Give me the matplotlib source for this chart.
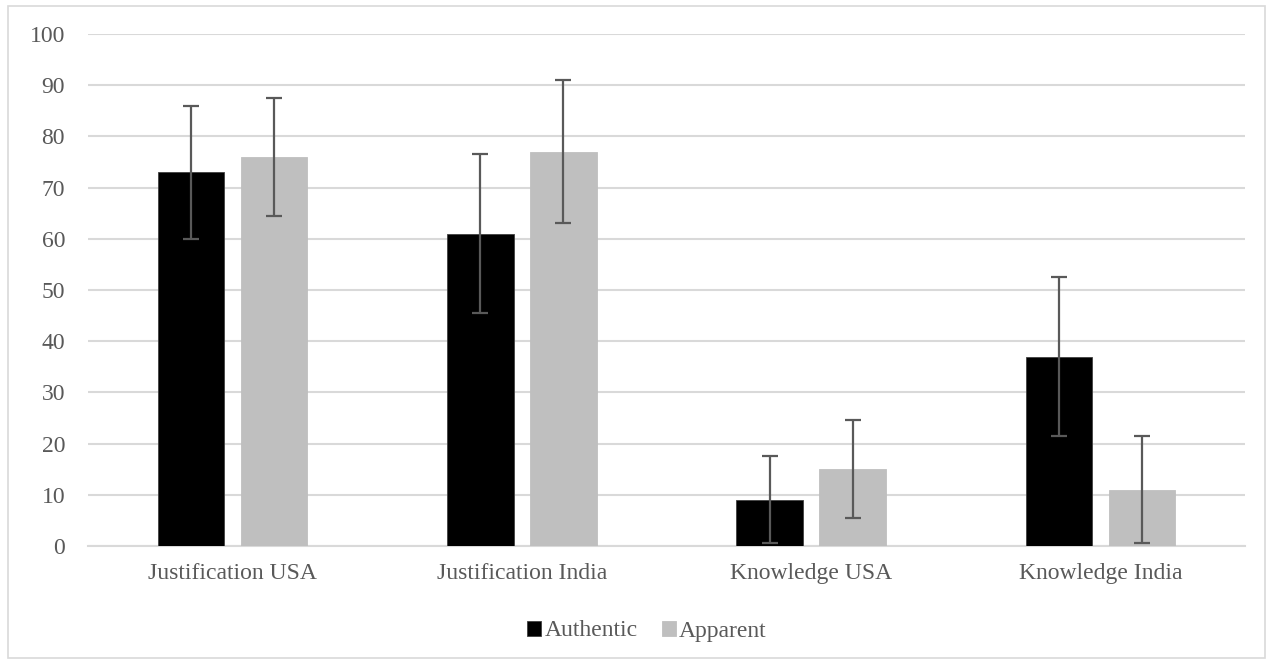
import matplotlib
matplotlib.use("Agg")
import matplotlib.pyplot as plt
import numpy as np
from matplotlib.patches import Rectangle

categories = ["Justification USA", "Justification India", "Knowledge USA", "Knowledge India"]
authentic = [73, 61, 9, 37]
authentic_err = [13, 15.5, 8.5, 15.5]
apparent = [76, 77, 15, 11]
apparent_err = [11.5, 14, 9.6, 10.4]
series_names = ["Authentic", "Apparent"]
yticks = [0, 10, 20, 30, 40, 50, 60, 70, 80, 90, 100]

plt.rcParams['font.family'] = ['Liberation Serif', 'DejaVu Serif']

W, H = 1273, 664
fig = plt.figure(figsize=(W/100, H/100), dpi=100)
ax = fig.add_axes([88/W, 1-546/H, (1245-88)/W, (546-34)/H])

x = np.arange(len(categories))
off = 0.1435
w = 0.23
txt = '#595959'
grid = '#d9d9d9'
errc = '#595959'

ax.bar(x-off, authentic, w, color='black', edgecolor='#404040', linewidth=0.6, zorder=2, label=series_names[0])
ax.bar(x+off, apparent, w, color='#bfbfbf', edgecolor='#bfbfbf', linewidth=0.6, zorder=2, label=series_names[1])
ax.errorbar(x-off, authentic, yerr=authentic_err, fmt='none', ecolor=errc, elinewidth=1.6, capsize=6, capthick=1.6, zorder=3)
ax.errorbar(x+off, apparent, yerr=apparent_err, fmt='none', ecolor=errc, elinewidth=1.6, capsize=6, capthick=1.6, zorder=3)

ax.set_xlim(-0.5, 3.5)
ax.set_ylim(0, 100)
ax.set_yticks(yticks)
ax.set_xticks(x)
ax.set_xticklabels(categories)
ax.yaxis.grid(True, color=grid, linewidth=1.5, zorder=0)
ax.set_axisbelow(True)
for s in ['top', 'right', 'left']:
    ax.spines[s].set_visible(False)
ax.spines['bottom'].set_color(grid)
ax.spines['bottom'].set_linewidth(1.5)
ax.spines['bottom'].set_zorder(1)
ax.tick_params(axis='both', length=0, labelsize=17, colors=txt, labelcolor=txt)
ax.tick_params(axis='y', pad=16.5)
ax.tick_params(axis='x', pad=12)

leg = fig.legend(loc='center', bbox_to_anchor=(647/W, 1-631/H), ncol=2, frameon=False,
                 fontsize=17, handlelength=0.6, handleheight=0.6, handletextpad=0.15, columnspacing=1.0)
for t in leg.get_texts():
    t.set_color(txt)

fig.patches.append(Rectangle((8/W, 1-658/H), (1265-8)/W, (658-6)/H, transform=fig.transFigure,
                             fill=False, edgecolor=grid, linewidth=1.2))
fig.savefig("out.png", dpi=100, facecolor='white')
